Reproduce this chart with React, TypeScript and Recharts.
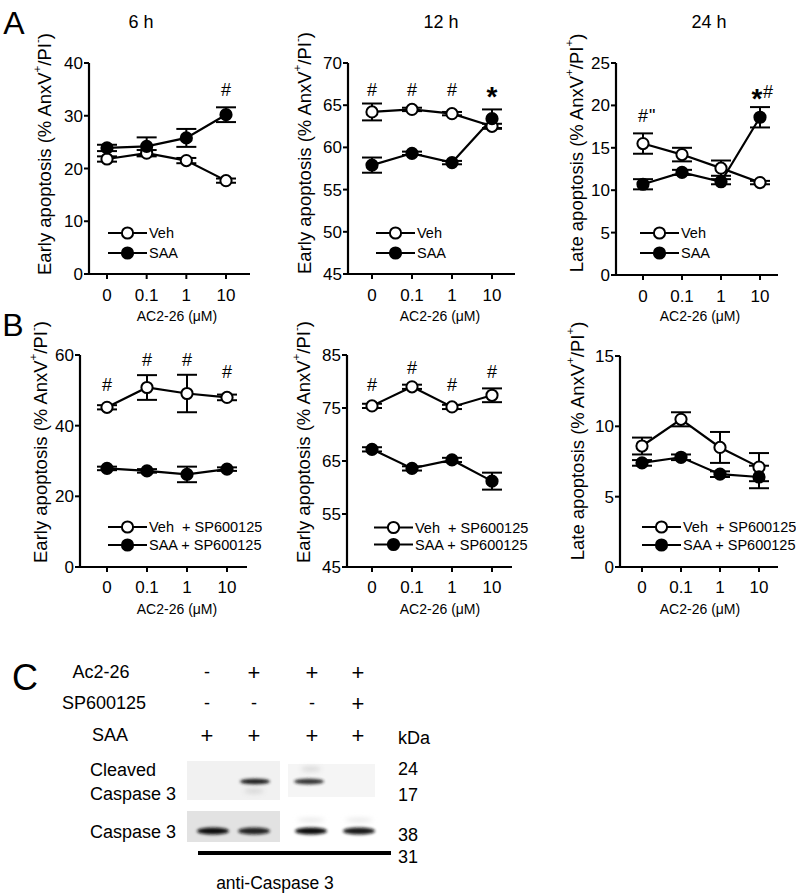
import React from 'react';
import { LineChart, Line, XAxis, YAxis, ErrorBar, ReferenceDot, Legend } from 'recharts';

const FONT = '"Liberation Sans", Arial, Helvetica, sans-serif';

// AC2-26 doses (uM), shared x categories
const doses = ['0', '0.1', '1', '10'];

// A, 6 h, early apoptosis
const veh6h = [21.8, 22.9, 21.5, 17.7];
const veh6hSem = [0.5, 0.6, 0.5, 0.4];
const saa6h = [23.9, 24.2, 25.8, 30.2];
const saa6hSem = [0.6, 1.7, 1.7, 1.4];
const sig6h = ['', '', '', '#'];
const sigAt6h = [0, 0, 0, 34.9];

// A, 12 h, early apoptosis
const veh12h = [64.2, 64.5, 64.0, 62.5];
const veh12hSem = [1.0, 0.2, 0.2, 0.3];
const saa12h = [57.9, 59.3, 58.2, 63.4];
const saa12hSem = [0.9, 0.2, 0.2, 1.1];
const sig12h = ['#', '#', '#', '*'];
const sigAt12h = [66.8, 66.8, 66.8, 66.8];

// A, 24 h, late apoptosis
const veh24h = [15.5, 14.2, 12.6, 10.9];
const veh24hSem = [1.2, 0.8, 0.9, 0.2];
const saa24h = [10.7, 12.1, 11.0, 18.6];
const saa24hSem = [0.6, 0.3, 0.3, 1.2];
const sig24h = ['#"', '', '', '*#'];
const sigAt24h = [18.7, 0, 0, 21.6];

// B, + SP600125, early apoptosis (left)
const vehSpEarly1 = [45.2, 50.8, 49.1, 48.0];
const vehSpEarly1Sem = [0.6, 3.5, 5.3, 0.8];
const saaSpEarly1 = [27.9, 27.2, 26.2, 27.7];
const saaSpEarly1Sem = [0.5, 0.5, 2.2, 0.5];
const sigSpEarly1 = ['#', '#', '#', '#'];
const sigAtSpEarly1 = [51.5, 58.6, 58.6, 55.3];

// B, + SP600125, early apoptosis (middle)
const vehSpEarly2 = [75.4, 79.0, 75.2, 77.4];
const vehSpEarly2Sem = [0.4, 0.4, 0.4, 1.3];
const saaSpEarly2 = [67.2, 63.6, 65.2, 61.2];
const saaSpEarly2Sem = [0.4, 0.4, 0.4, 1.6];
const sigSpEarly2 = ['#', '#', '#', '#'];
const sigAtSpEarly2 = [79.3, 82.5, 79.3, 81.8];

// B, + SP600125, late apoptosis
const vehSpLate = [8.6, 10.5, 8.5, 7.1];
const vehSpLateSem = [0.6, 0.5, 1.1, 1.0];
const saaSpLate = [7.4, 7.8, 6.6, 6.4];
const saaSpLateSem = [0.2, 0.2, 0.2, 0.8];
const sigSpLate = ['', '', '', ''];
const sigAtSpLate = [0, 0, 0, 0];

// C, western blot lanes
const blotRows = ['Ac2-26', 'SP600125', 'SAA'];
const ac226Signs = ['-', '+', '+', '+'];
const spSigns = ['-', '-', '-', '+'];
const saaSigns = ['+', '+', '+', '+'];
const cleavedBand = [0, 1, 0.9, 0];
const totalBand = [1, 0.9, 1, 0.95];
const markerKda = ['24', '17', '38', '31'];

type Spec = {
  id: string;
  axisX: number;
  plotTop: number;
  plotW: number;
  plotH: number;
  padL: number;
  padR: number;
  domain: [number, number];
  ticks: number[];
  veh: number[];
  vehSem: number[];
  saa: number[];
  saaSem: number[];
  sig: string[];
  sigAt: number[];
  yTitle: string;
  piSign: string;
  names: [string, string];
  legendX: number;
  legendY: number;
  legendGap: number;
  xTitleX: number;
  xTitleY: number;
  yTitleX: number;
  yTitleY: number;
  tickMargin: number;
};

const earlyA = { yTitle: 'Early apoptosis', piSign: '-', names: ['Veh', 'SAA'] as [string, string] };
const lateA = { yTitle: 'Late apoptosis', piSign: '+', names: ['Veh', 'SAA'] as [string, string] };
const spNames: [string, string] = ['Veh\u00a0\u00a0+ SP600125', 'SAA + SP600125'];

const panels: Spec[] = [
  {
    id: 'a6', axisX: 89, plotTop: 63, plotW: 161, plotH: 211, padL: 18, padR: 24,
    domain: [0, 40], ticks: [0, 10, 20, 30, 40],
    veh: veh6h, vehSem: veh6hSem, saa: saa6h, saaSem: saa6hSem, sig: sig6h, sigAt: sigAt6h,
    ...earlyA, legendX: 108, legendY: 233, legendGap: 20,
    xTitleX: 177, xTitleY: 316, yTitleX: 44, yTitleY: 154, tickMargin: 10,
  },
  {
    id: 'a12', axisX: 348, plotTop: 63, plotW: 167, plotH: 211, padL: 24, padR: 23,
    domain: [45, 70], ticks: [45, 50, 55, 60, 65, 70],
    veh: veh12h, vehSem: veh12hSem, saa: saa12h, saaSem: saa12hSem, sig: sig12h, sigAt: sigAt12h,
    ...earlyA, legendX: 376, legendY: 233, legendGap: 20,
    xTitleX: 440, xTitleY: 316, yTitleX: 304, yTitleY: 153, tickMargin: 10,
  },
  {
    id: 'a24', axisX: 616, plotTop: 63, plotW: 162, plotH: 212, padL: 27, padR: 18,
    domain: [0, 25], ticks: [0, 5, 10, 15, 20, 25],
    veh: veh24h, vehSem: veh24hSem, saa: saa24h, saaSem: saa24hSem, sig: sig24h, sigAt: sigAt24h,
    ...lateA, legendX: 640, legendY: 233, legendGap: 20,
    xTitleX: 700, xTitleY: 316, yTitleX: 576, yTitleY: 153, tickMargin: 10,
  },
  {
    id: 'b1', axisX: 80, plotTop: 355, plotW: 167, plotH: 212, padL: 27, padR: 20,
    domain: [0, 60], ticks: [0, 20, 40, 60],
    veh: vehSpEarly1, vehSem: vehSpEarly1Sem, saa: saaSpEarly1, saaSem: saaSpEarly1Sem, sig: sigSpEarly1, sigAt: sigAtSpEarly1,
    yTitle: 'Early apoptosis', piSign: '-', names: spNames, legendX: 108, legendY: 527, legendGap: 18,
    xTitleX: 177, xTitleY: 609, yTitleX: 40, yTitleY: 442, tickMargin: 9,
  },
  {
    id: 'b2', axisX: 347, plotTop: 355, plotW: 165, plotH: 212, padL: 25, padR: 20,
    domain: [45, 85], ticks: [45, 55, 65, 75, 85],
    veh: vehSpEarly2, vehSem: vehSpEarly2Sem, saa: saaSpEarly2, saaSem: saaSpEarly2Sem, sig: sigSpEarly2, sigAt: sigAtSpEarly2,
    yTitle: 'Early apoptosis', piSign: '-', names: spNames, legendX: 374, legendY: 527, legendGap: 17,
    xTitleX: 440, xTitleY: 609, yTitleX: 303, yTitleY: 442, tickMargin: 9,
  },
  {
    id: 'b3', axisX: 620, plotTop: 356, plotW: 158, plotH: 211, padL: 22, padR: 19,
    domain: [0, 15], ticks: [0, 5, 10, 15],
    veh: vehSpLate, vehSem: vehSpLateSem, saa: saaSpLate, saaSem: saaSpLateSem, sig: sigSpLate, sigAt: sigAtSpLate,
    yTitle: 'Late apoptosis', piSign: '+', names: spNames, legendX: 642, legendY: 527, legendGap: 18,
    xTitleX: 700, xTitleY: 609, yTitleX: 577, yTitleY: 441, tickMargin: 9,
  },
];

const LEFT = 75;
const TOP = 45;
const RIGHT = 25;
const XAXIS_H = 60;

function SigMark({ cx, cy, text }: { cx: number; cy: number; text: string }) {
  const head = text[0];
  const tail = text.slice(1);
  const hx = head === '*' && tail ? cx - 3 : cx;
  return (
    <g fontFamily={FONT} fill="#000">
      {head === '*' ? (
        <text x={hx} y={cy + 6.5} fontSize={28} fontWeight="bold" textAnchor="middle" dominantBaseline="central">*</text>
      ) : (
        <text x={hx} y={cy} fontSize={18} textAnchor="middle" dominantBaseline="central">{head}</text>
      )}
      {tail && (
        <text x={hx + 6} y={cy} fontSize={18} textAnchor="start" dominantBaseline="central">{tail}</text>
      )}
    </g>
  );
}

function LegendBox({ names, gap }: { names: [string, string]; gap: number }) {
  return (
    <svg width={180} height={gap * 2} style={{ overflow: 'visible', display: 'block' }}>
      {names.map((n, i) => {
        const y = gap / 2 + i * gap;
        return (
          <g key={n}>
            <line x1={0} x2={39} y1={y} y2={y} stroke="#000" strokeWidth={2.2} />
            <circle cx={19.5} cy={y} r={5.6} fill={i === 0 ? '#fff' : '#000'} stroke="#000" strokeWidth={2} />
            <text x={41} y={y} dominantBaseline="central" fontSize={14.5} fontFamily={FONT} fill="#000">{n}</text>
          </g>
        );
      })}
    </svg>
  );
}

function Panel({ spec }: { spec: Spec }) {
  const boxLeft = spec.axisX - LEFT;
  const boxTop = spec.plotTop - TOP;
  const width = LEFT + spec.plotW + RIGHT;
  const height = TOP + spec.plotH + XAXIS_H;
  const rows = doses.map((d, i) => ({
    dose: d,
    veh: spec.veh[i],
    vehErr: spec.vehSem[i],
    saa: spec.saa[i],
    saaErr: spec.saaSem[i],
  }));
  const yx = spec.yTitleX - boxLeft;
  const yy = spec.yTitleY - boxTop;
  const tickStyle = { fontSize: 17, fill: '#000', fontFamily: FONT };
  return (
    <div style={{ position: 'absolute', left: boxLeft, top: boxTop }}>
      <LineChart width={width} height={height} data={rows} margin={{ top: TOP, right: RIGHT, bottom: 0, left: 0 }}>
        <XAxis
          dataKey="dose"
          type="category"
          height={XAXIS_H}
          padding={{ left: spec.padL, right: spec.padR }}
          axisLine={{ stroke: '#000', strokeWidth: 2.2 }}
          tickLine={{ stroke: '#000', strokeWidth: 2 }}
          tickSize={5}
          tickMargin={spec.tickMargin}
          tick={tickStyle}
          interval={0}
          label={{
            content: () => (
              <text
                x={spec.xTitleX - boxLeft}
                y={spec.xTitleY - boxTop}
                textAnchor="middle"
                dominantBaseline="central"
                fontSize={14}
                fontFamily={FONT}
                fill="#000"
              >
                AC2-26 (μM)
              </text>
            ),
          }}
        />
        <YAxis
          width={LEFT}
          domain={spec.domain}
          ticks={spec.ticks}
          interval={0}
          axisLine={{ stroke: '#000', strokeWidth: 2.2 }}
          tickLine={{ stroke: '#000', strokeWidth: 2 }}
          tickSize={5}
          tickMargin={1}
          tick={tickStyle}
          label={{
            content: () => (
              <text
                x={yx}
                y={yy}
                transform={`rotate(-90 ${yx} ${yy})`}
                textAnchor="middle"
                dominantBaseline="central"
                fontSize={18.5}
                fontFamily={FONT}
                fill="#000"
              >
                {spec.yTitle} (% AnxV
                <tspan dy={-7} fontSize={11.5}>+</tspan>
                <tspan dy={7}>/PI</tspan>
                <tspan dy={-7} fontSize={11.5}>{spec.piSign}</tspan>
                <tspan dy={7}>)</tspan>
              </text>
            ),
          }}
        />
        <Line
          dataKey="veh"
          type="linear"
          stroke="#000"
          strokeWidth={2.2}
          dot={{ r: 5.6, fill: '#fff', stroke: '#000', strokeWidth: 2 }}
          isAnimationActive={false}
        >
          <ErrorBar dataKey="vehErr" direction="y" width={10} stroke="#000" strokeWidth={2} />
        </Line>
        <Line
          dataKey="saa"
          type="linear"
          stroke="#000"
          strokeWidth={2.2}
          dot={{ r: 5.6, fill: '#000', stroke: '#000', strokeWidth: 2 }}
          isAnimationActive={false}
        >
          <ErrorBar dataKey="saaErr" direction="y" width={10} stroke="#000" strokeWidth={2} />
        </Line>
        {spec.sig.map((t, i) =>
          t ? (
            <ReferenceDot
              key={i}
              x={doses[i]}
              y={spec.sigAt[i]}
              r={1}
              fill="none"
              stroke="none"
              ifOverflow="visible"
              label={{
                content: (p: any) => {
                  const vb = p.viewBox || {};
                  return <SigMark cx={vb.x + (vb.width || 0) / 2} cy={vb.y + (vb.height || 0) / 2} text={t} />;
                },
              }}
            />
          ) : null
        )}
        <Legend
          layout="vertical"
          align="center"
          verticalAlign="middle"
          wrapperStyle={{ left: spec.legendX - boxLeft, top: spec.legendY - spec.legendGap / 2 - boxTop, width: 'auto', height: 'auto' }}
          content={() => <LegendBox names={spec.names} gap={spec.legendGap} />}
        />
      </LineChart>
    </div>
  );
}

function Txt({ x, y, size, children }: { x: number; y: number; size: number; children: React.ReactNode }) {
  return (
    <div
      style={{
        position: 'absolute',
        left: x,
        top: y,
        transform: 'translate(-50%, -50%)',
        fontSize: size,
        lineHeight: 1,
        whiteSpace: 'nowrap',
      }}
    >
      {children}
    </div>
  );
}

const laneX = [213, 254, 311, 359];
const signX = [207, 254, 312, 358];

function BlotPanel() {
  const signRows = [ac226Signs, spSigns, saaSigns];
  const rowY = [672, 703, 735];
  const rowLabelX = [101, 104, 110];
  const kdaY = [769, 795, 835, 857];
  return (
    <svg width={796} height={893} style={{ position: 'absolute', left: 0, top: 0 }} fontFamily={FONT}>
      <defs>
        <filter id="blur" x="-50%" y="-200%" width="200%" height="500%">
          <feGaussianBlur stdDeviation="1.6" />
        </filter>
        <filter id="blurSoft" x="-50%" y="-200%" width="200%" height="500%">
          <feGaussianBlur stdDeviation="2.5" />
        </filter>
      </defs>
      {blotRows.map((r, i) => (
        <text key={r} x={rowLabelX[i]} y={rowY[i]} fontSize={18} textAnchor="middle" dominantBaseline="central" fill="#000">{r}</text>
      ))}
      {signRows.map((row, i) =>
        row.map((s, j) => (
          <text key={`${i}-${j}`} x={signX[j]} y={rowY[i]} fontSize={s === '+' ? 22 : 18} textAnchor="middle" dominantBaseline="central" fill="#000">{s}</text>
        ))
      )}
      <text x={398} y={738} fontSize={18} dominantBaseline="central" fill="#000">kDa</text>

      <rect x={187} y={761} width={93} height={39} fill="#f1f1f1" />
      <rect x={288} y={764} width={87} height={33} fill="#f5f5f5" />
      <rect x={187} y={811} width={93} height={31} fill="#e2e2e2" />
      {cleavedBand.map((v, j) =>
        v > 0 ? (
          <g key={`c${j}`}>
            <ellipse cx={laneX[j] - (j === 2 ? 2 : -1)} cy={781.5} rx={15} ry={2.8} fill="#1a1a1a" opacity={v} filter="url(#blur)" />
            <ellipse cx={laneX[j]} cy={j === 1 ? 791 : 769} rx={10} ry={2} fill="#bbb" opacity={0.6} filter="url(#blurSoft)" />
          </g>
        ) : null
      )}
      {totalBand.map((v, j) => (
        <g key={`t${j}`}>
          <ellipse cx={laneX[j]} cy={831} rx={16} ry={3.6} fill="#111" opacity={v} filter="url(#blur)" />
          {j >= 2 && <ellipse cx={laneX[j]} cy={820} rx={14} ry={1.5} fill="#ddd" filter="url(#blurSoft)" />}
        </g>
      ))}
      <rect x={198} y={851} width={193} height={4} fill="#000" />

      <text x={90} y={770} fontSize={18} dominantBaseline="central" fill="#000">Cleaved</text>
      <text x={90} y={794} fontSize={18} dominantBaseline="central" fill="#000">Caspase 3</text>
      <text x={90} y={832} fontSize={18} dominantBaseline="central" fill="#000">Caspase 3</text>
      {markerKda.map((k, i) => (
        <text key={k} x={398} y={kdaY[i]} fontSize={18} dominantBaseline="central" fill="#000">{k}</text>
      ))}
      <text x={275} y={883} fontSize={17.5} textAnchor="middle" dominantBaseline="central" fill="#000">anti-Caspase 3</text>
    </svg>
  );
}

export default function App() {
  return (
    <div
      style={{
        position: 'absolute',
        left: 0,
        top: 0,
        width: 796,
        height: 893,
        background: '#fff',
        fontFamily: FONT,
        color: '#000',
        overflow: 'hidden',
      }}
    >
      <BlotPanel />
      {panels.map((p) => (
        <Panel key={p.id} spec={p} />
      ))}
      <Txt x={14} y={23} size={32}>A</Txt>
      <Txt x={13} y={325} size={32}>B</Txt>
      <Txt x={25} y={678} size={36}>C</Txt>
      <Txt x={141} y={22} size={18}>6 h</Txt>
      <Txt x={441} y={22} size={18}>12 h</Txt>
      <Txt x={709} y={22} size={18}>24 h</Txt>
    </div>
  );
}
